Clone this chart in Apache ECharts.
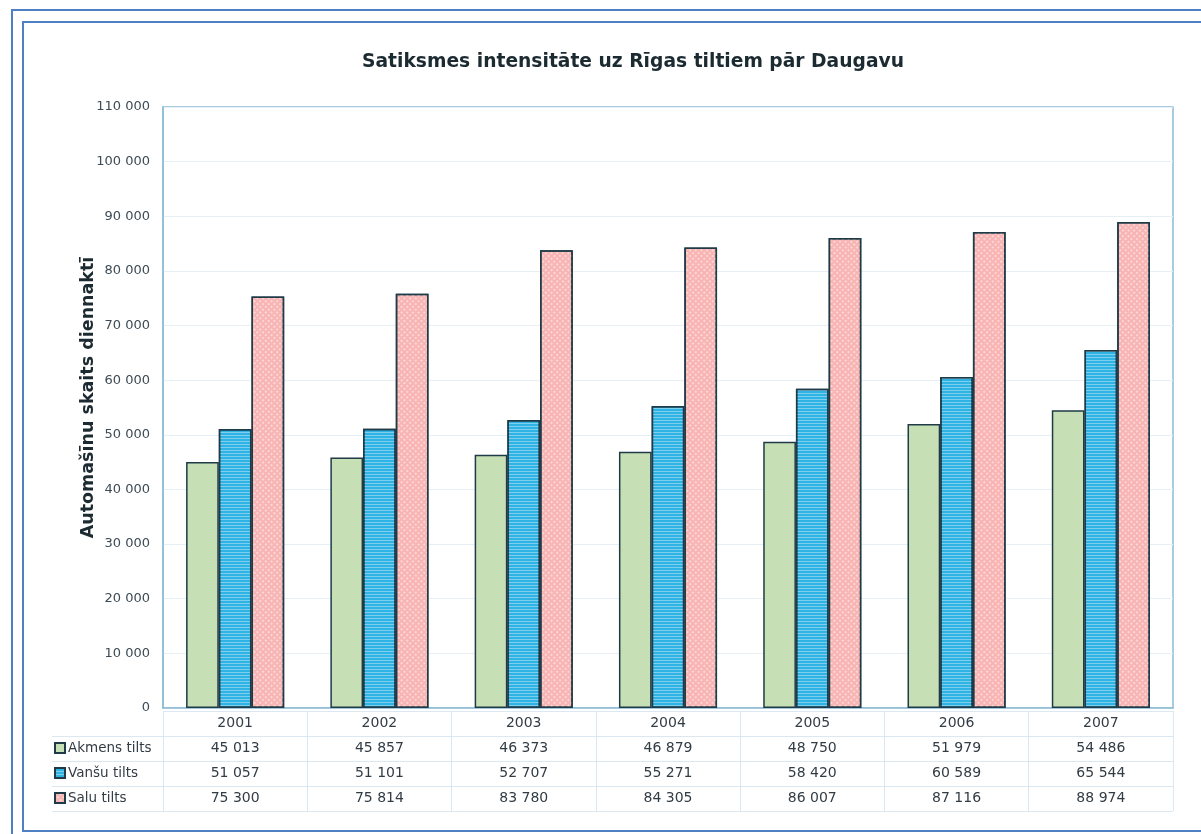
<!DOCTYPE html>
<html>
<head>
<meta charset="utf-8">
<title>Satiksmes intensitāte uz Rīgas tiltiem pār Daugavu</title>
<script src="https://cdn.jsdelivr.net/npm/echarts@6/dist/echarts.min.js"></script>
<style>
  html, body { margin: 0; padding: 0; background: #ffffff; }
  #chart { width: 1201px; height: 834px; }
</style>
</head>
<body>
<div id="chart"></div>
<script>
// Daily vehicle counts on the Riga bridges over the Daugava
const years = ['2001', '2002', '2003', '2004', '2005', '2006', '2007'];
const seriesNames = ['Akmens tilts', 'Vanšu tilts', 'Salu tilts'];
const akmensTilts = [45013, 45857, 46373, 46879, 48750, 51979, 54486];
const vansuTilts = [51057, 51101, 52707, 55271, 58420, 60589, 65544];
const saluTilts = [75300, 75814, 83780, 84305, 86007, 87116, 88974];
const yMin = 0;
const yMax = 110000;
const yStep = 10000;

const titleText = 'Satiksmes intensitāte uz Rīgas tiltiem pār Daugavu';
const yAxisTitle = 'Automašīnu skaits diennaktī';

const FONT = '"DejaVu Sans", Verdana, sans-serif';
const TEXT_COLOR = '#323c44';
const LABEL_COLOR = '#3d4b55';
const GRID_LINE = '#e6eff6';
const TABLE_LINE = '#dbe8f2';
const AXIS_LINE = '#8dbcd6';
const BAR_EDGE = '#1e3b47';

// thousands separated by a space: 45013 -> "45 013"
function fmt(n) {
  return String(n).replace(/\B(?=(\d{3})+(?!\d))/g, ' ');
}

const seriesValues = [akmensTilts, vansuTilts, saluTilts];
const fills = ['#c7dfb4', '#2fb2e4', '#f8b4b3'];
const decals = [
  null,
  { symbol: 'rect', symbolSize: 1, dashArrayX: [1, 0], dashArrayY: [1, 2],
    color: 'rgba(255,255,255,0.38)', rotation: 0 },
  { symbol: 'rect', symbolSize: 1, dashArrayX: [2, 2], dashArrayY: [2, 2],
    color: 'rgba(255,255,255,0.45)', rotation: Math.PI / 4 }
];

// bar series
const barSeries = seriesNames.map((name, s) => {
  const style = { color: fills[s], borderColor: BAR_EDGE, borderWidth: 1.5 };
  if (decals[s]) style.decal = decals[s];
  return {
    name: name,
    type: 'bar',
    xAxisIndex: 0,
    yAxisIndex: 0,
    barGap: '0%',
    barCategoryGap: '32%',
    itemStyle: style,
    emphasis: { disabled: true },
    data: seriesValues[s]
  };
});

// data table cells: row 0 holds the year labels, rows 1..3 the values
const tableCells = [];
seriesValues.forEach((vals, s) => {
  vals.forEach((v, i) => tableCells.push([i, s + 1, v]));
});

const tableSeries = {
  name: 'tabula',
  type: 'scatter',
  xAxisIndex: 1,
  yAxisIndex: 1,
  symbol: 'rect',
  symbolSize: 1,
  itemStyle: { color: '#ffffff', opacity: 1 },
  silent: true,
  label: {
    show: true,
    position: 'inside',
    formatter: p => fmt(p.value[2]),
    fontFamily: FONT,
    fontSize: 14,
    color: TEXT_COLOR,
    opacity: 1
  },
  data: tableCells
};

const chart = echarts.init(document.getElementById('chart'), null, { renderer: 'canvas' });

chart.setOption({
  backgroundColor: '#ffffff',
  animation: false,
  title: {
    text: titleText,
    left: 362,
    top: 53,
    padding: 0,
    textStyle: { fontFamily: FONT, fontSize: 18.7, fontWeight: 'bold', color: '#1c2a31' }
  },
  legend: {
    orient: 'vertical',
    left: 54,
    top: 740,
    padding: 0,
    itemGap: 9,
    itemWidth: 10,
    itemHeight: 10,
    icon: 'rect',
    selectedMode: false,
    data: seriesNames,
    textStyle: { fontFamily: FONT, fontSize: 13.5, color: TEXT_COLOR, lineHeight: 16, padding: [0, 0, 0, -2] }
  },
  grid: [
    { left: 163, right: 28, top: 107, bottom: 126, show: true, borderColor: AXIS_LINE, borderWidth: 1.5, containLabel: false },
    { left: 163, right: 28, top: 711, height: 100, show: false, containLabel: false },
    { left: 52, width: 111, top: 736, height: 75, show: false, containLabel: false }
  ],
  xAxis: [
    {
      type: 'category',
      gridIndex: 0,
      data: years,
      axisLine: { show: true, lineStyle: { color: AXIS_LINE, width: 1.5 } },
      axisTick: { show: false },
      axisLabel: { margin: 8, fontFamily: FONT, fontSize: 14, color: TEXT_COLOR },
      splitLine: { show: false }
    },
    {
      type: 'category',
      gridIndex: 1,
      data: years,
      axisLine: { show: false },
      axisTick: { show: false },
      axisLabel: { show: false },
      splitLine: { show: true, interval: 0, lineStyle: { color: TABLE_LINE, width: 1 } }
    },
    {
      type: 'category',
      gridIndex: 2,
      data: [''],
      axisLine: { show: false },
      axisTick: { show: false },
      axisLabel: { show: false },
      splitLine: { show: false }
    }
  ],
  yAxis: [
    {
      type: 'value',
      gridIndex: 0,
      min: yMin,
      max: yMax,
      interval: yStep,
      name: yAxisTitle,
      nameLocation: 'middle',
      nameGap: 66,
      nameMoveOverlap: false,
      nameTextStyle: { fontFamily: FONT, fontSize: 17.5, fontWeight: 'bold', color: '#1c2a31', padding: [0, 0, 0, 20] },
      axisLine: { show: true, lineStyle: { color: AXIS_LINE, width: 1.5 } },
      axisTick: { show: false },
      axisLabel: { margin: 13, fontFamily: FONT, fontSize: 13, color: LABEL_COLOR, formatter: v => fmt(v) },
      splitLine: { show: true, lineStyle: { color: GRID_LINE, width: 1 } }
    },
    {
      type: 'category',
      gridIndex: 1,
      inverse: true,
      data: ['', seriesNames[0], seriesNames[1], seriesNames[2]],
      axisLine: { show: false },
      axisTick: { show: false },
      axisLabel: { show: false },
      splitLine: { show: true, interval: 0, lineStyle: { color: TABLE_LINE, width: 1 } }
    },
    {
      type: 'category',
      gridIndex: 2,
      inverse: true,
      data: seriesNames,
      axisLine: { show: false },
      axisTick: { show: false },
      axisLabel: { show: false },
      splitLine: { show: true, interval: 0, lineStyle: { color: TABLE_LINE, width: 1 } }
    }
  ],
  graphic: [
    // double blue page frame
    { type: 'rect', silent: true, shape: { x: 12, y: 10, width: 1300, height: 1000 },
      style: { fill: 'none', stroke: '#4f80c6', lineWidth: 2 } },
    { type: 'rect', silent: true, shape: { x: 23, y: 22, width: 1300, height: 809 },
      style: { fill: 'none', stroke: '#4f80c6', lineWidth: 2 } }
  ],
  series: barSeries.concat([tableSeries])
});
</script>
</body>
</html>
